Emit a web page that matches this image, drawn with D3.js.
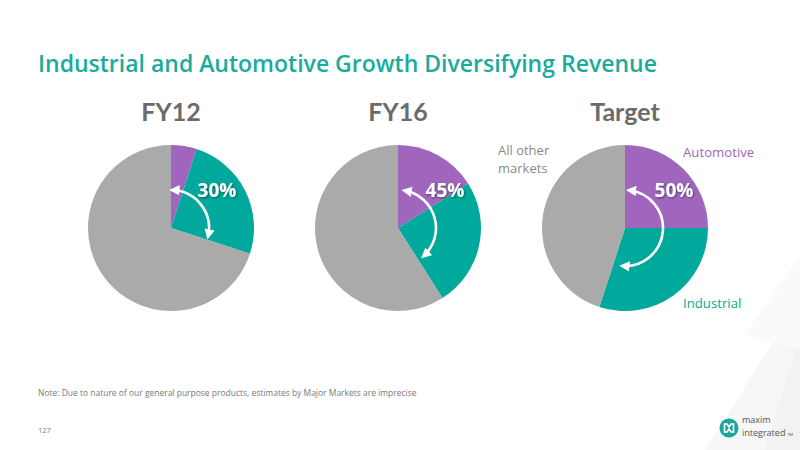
<!DOCTYPE html>
<html><head><meta charset="utf-8">
<script src="https://cdn.jsdelivr.net/npm/d3@7"></script>
<style>body{margin:0;background:#fff} svg{display:block}</style>
</head><body><svg id="c" width="800" height="450"></svg>
<script>
// ---- data ----
const periods = ["FY12", "FY16", "Target"];
const segments = ["Automotive", "Industrial", "All other markets"];
const automotive = [5, 16, 25];
const industrial = [25, 25, 30];
const otherMarkets = [70, 59, 45];
const combinedLabels = ["30%", "45%", "50%"];
const arrowFromDeg = [2, 10, 6];
const arrowToDeg = [103, 138, 184];

// ---- styles / layout ----
const colors = {Automotive: "#a066be", Industrial: "#00a99b", "All other markets": "#aaaaaa"};
const teal = "#1aab9c";
const svg = d3.select("#c");

const defs = svg.append("defs");
const f = defs.append("filter").attr("id", "sh").attr("x", "-20%").attr("y", "-20%").attr("width", "140%").attr("height", "140%");
f.append("feDropShadow").attr("dx", 1).attr("dy", 1).attr("stdDeviation", 0.8).attr("flood-color", "#000").attr("flood-opacity", 0.45);
defs.append("marker").attr("id", "ah").attr("viewBox", "0 0 10 10").attr("refX", 7).attr("refY", 5)
  .attr("markerWidth", 4).attr("markerHeight", 4).attr("orient", "auto-start-reverse")
  .append("path").attr("d", "M0,0 L10,5 L0,10 Z").attr("fill", "#fff");

// background decoration (bottom right, very faint)
svg.append("path").attr("d", "M800,300 L705,450 L800,450 Z").attr("fill", "#f7f7f7");
svg.append("path").attr("d", "M800,335 L765,450 L800,450 Z").attr("fill", "#f2f2f2");
svg.append("path").attr("d", "M800,255 L745,335 L800,350 Z").attr("fill", "#fafafa");

function fit(sel, w) {
  const n = sel.node(); const cur = parseFloat(sel.attr("font-size"));
  const m = n.getComputedTextLength();
  sel.attr("font-size", (cur * w / m).toFixed(2));
}
const title = svg.append("text").attr("x", 38).attr("y", 72)
  .attr("font-family", "Open Sans").attr("font-weight", 600).attr("font-size", 26)
  .attr("fill", teal).text("Industrial and Automotive Growth Diversifying Revenue");
fit(title, 619);

const x = d3.scalePoint().domain(periods).range([171, 625]);
const cy = 228, R = 83;
const pie = d3.pie().sort(null).value(d => d);
const arc = d3.arc().innerRadius(0).outerRadius(R);

const labelOff = [[46, -31], [47, -31], [49, -31]];

periods.forEach((p, i) => {
  const g = svg.append("g").attr("transform", `translate(${x(p)},${cy})`);
  const vals = [automotive[i], industrial[i], otherMarkets[i]];
  g.selectAll("path.s").data(pie(vals)).join("path").attr("class", "s")
    .attr("d", arc).attr("fill", (d, j) => colors[segments[j]]);
  svg.append("text").attr("x", x(p)).attr("y", 121).attr("text-anchor", "middle")
    .attr("font-family", "Lato").attr("font-weight", 700).attr("font-size", 25)
    .attr("fill", "#6b6b6b").text(p);
  const r = 38;
  const a0 = arrowFromDeg[i] * Math.PI / 180 - Math.PI / 2;
  const a1 = arrowToDeg[i] * Math.PI / 180 - Math.PI / 2;
  const pth = d3.path();
  pth.moveTo(r * Math.cos(a0), r * Math.sin(a0));
  pth.arc(0, 0, r, a0, a1, false);
  g.append("path").attr("d", pth.toString()).attr("fill", "none").attr("stroke", "#fff")
    .attr("stroke-width", 2.6).attr("marker-start", "url(#ah)").attr("marker-end", "url(#ah)");
  g.append("text").attr("x", labelOff[i][0]).attr("y", labelOff[i][1]).attr("text-anchor", "middle")
    .attr("font-family", "Open Sans").attr("font-weight", 700).attr("font-size", 19)
    .attr("fill", "#fff").attr("filter", "url(#sh)").text(combinedLabels[i]);
});

const tx = x("Target");
const lf = "Open Sans";
const lo = svg.append("text").attr("x", tx - 127).attr("y", 155).attr("font-family", lf)
  .attr("font-size", 13).attr("fill", "#8a8a8a");
lo.append("tspan").attr("x", tx - 127).text("All other");
lo.append("tspan").attr("x", tx - 127).attr("dy", 18).text("markets");
svg.append("text").attr("x", tx + 58).attr("y", 157).attr("font-family", lf).attr("font-size", 13.2)
  .attr("fill", colors.Automotive).text(segments[0]);
svg.append("text").attr("x", tx + 58).attr("y", 308).attr("font-family", lf).attr("font-size", 13.2)
  .attr("fill", colors.Industrial).text(segments[1]);

const note = svg.append("text").attr("x", 38).attr("y", 396).attr("font-family", "Open Sans")
  .attr("font-size", 9).attr("fill", "#7a7a7a")
  .text("Note:  Due to nature of our general purpose products, estimates by Major Markets are imprecise");
fit(note, 379);
svg.append("text").attr("x", 38).attr("y", 433).attr("font-family", "Open Sans")
  .attr("font-size", 7.5).attr("fill", "#7a7a7a").text("127");

const lg = svg.append("g").attr("transform", "translate(729,428)");
lg.append("circle").attr("r", 9.5).attr("fill", "#1aa89a");
lg.append("path").attr("d", "M-4.5,-4 L-2,-4 L0,-1 L2,-4 L4.5,-4 L4.5,4 L2,4 L0,1 L-2,4 L-4.5,4 Z")
  .attr("fill", "none").attr("stroke", "#fff").attr("stroke-width", 1.6);
svg.append("text").attr("x", 742).attr("y", 423).attr("font-family", "Open Sans").attr("font-size", 9)
  .attr("fill", "#555").text("maxim");
const it = svg.append("text").attr("x", 742).attr("y", 436).attr("font-family", "Open Sans").attr("font-size", 9)
  .attr("fill", "#555").text("integrated");
svg.append("text").attr("x", 742 + it.node().getComputedTextLength() + 2).attr("y", 436)
  .attr("font-family", "Open Sans").attr("font-size", 4).attr("fill", "#555").text("TM");
</script></body></html>
